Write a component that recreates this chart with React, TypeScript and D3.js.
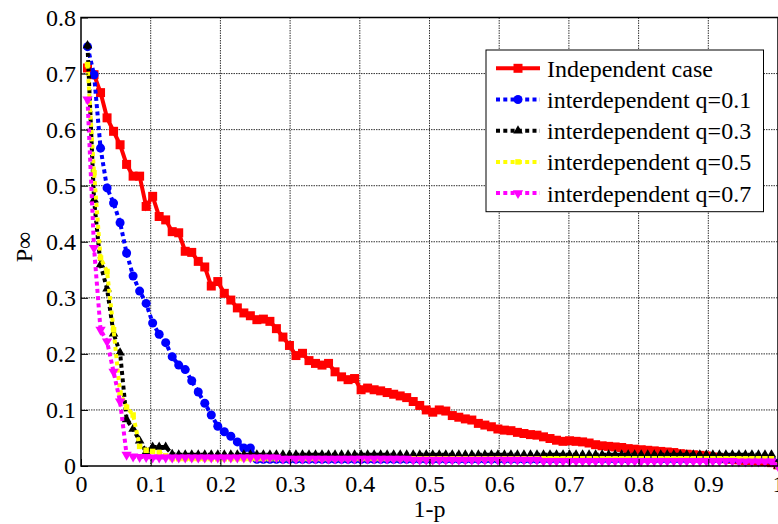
import React, { useRef, useEffect } from 'react';
import * as d3 from 'd3';

// sample grid: point i sits at 1-p = i / N
const N = 107;

const xTicks = [0, 0.1, 0.2, 0.3, 0.4, 0.5, 0.6, 0.7, 0.8, 0.9, 1];
const yTicks = [0, 0.1, 0.2, 0.3, 0.4, 0.5, 0.6, 0.7, 0.8];

const seriesNames = [
  'Independent case',
  'interdependent q=0.1',
  'interdependent q=0.3',
  'interdependent q=0.5',
  'interdependent q=0.7',
];

const independent = [
  0.710, 0.698, 0.666, 0.621, 0.597, 0.573, 0.538, 0.517, 0.517, 0.463,
  0.481, 0.445, 0.439, 0.418, 0.416, 0.383, 0.381, 0.365, 0.355, 0.321,
  0.329, 0.308, 0.296, 0.282, 0.273, 0.268, 0.261, 0.262, 0.258, 0.245,
  0.230, 0.215, 0.197, 0.201, 0.188, 0.183, 0.180, 0.183, 0.168, 0.159,
  0.154, 0.156, 0.136, 0.139, 0.136, 0.134, 0.131, 0.128, 0.125, 0.122,
  0.115, 0.108, 0.100, 0.096, 0.100, 0.098, 0.090, 0.087, 0.084, 0.082,
  0.076, 0.073, 0.070, 0.066, 0.064, 0.063, 0.060, 0.058, 0.056, 0.055,
  0.052, 0.049, 0.046, 0.044, 0.045, 0.044, 0.043, 0.041, 0.038, 0.036,
  0.035, 0.034, 0.033, 0.031, 0.030, 0.029, 0.028, 0.027, 0.026, 0.025,
  0.024, 0.022, 0.021, 0.020, 0.019, 0.018, 0.016, 0.015, 0.013, 0.012,
  0.011, 0.010, 0.010, 0.009, 0.008, 0.006, 0.002,
];

const interQ01 = [
  0.748, 0.698, 0.567, 0.496, 0.469, 0.434, 0.380, 0.339, 0.312, 0.290,
  0.255, 0.235, 0.220, 0.195, 0.180, 0.172, 0.152, 0.132, 0.112, 0.091,
  0.071, 0.061, 0.053, 0.043, 0.032, 0.032, 0.012, 0.012, 0.012, 0.012,
  0.012, 0.012, 0.012, 0.012, 0.012, 0.012, 0.012, 0.012, 0.012, 0.012,
  0.012, 0.012, 0.012, 0.012, 0.012, 0.012, 0.012, 0.012, 0.012, 0.012,
  0.012, 0.012, 0.012, 0.012, 0.012, 0.012, 0.012, 0.012, 0.012, 0.012,
  0.012, 0.012, 0.012, 0.012, 0.012, 0.012, 0.012, 0.012, 0.012, 0.012,
  0.012, 0.012, 0.012, 0.012, 0.012, 0.012, 0.012, 0.012, 0.012, 0.012,
  0.012, 0.012, 0.012, 0.012, 0.012, 0.012, 0.012, 0.012, 0.012, 0.012,
  0.012, 0.012, 0.012, 0.012, 0.012, 0.012, 0.012, 0.012, 0.012, 0.012,
  0.012, 0.012, 0.012, 0.012, 0.012, 0.010, 0.005,
];

const interQ03 = [
  0.750, 0.475, 0.359, 0.316, 0.236, 0.202, 0.083, 0.066, 0.045, 0.025,
  0.034, 0.034, 0.034, 0.021, 0.020, 0.020, 0.020, 0.020, 0.020, 0.020,
  0.020, 0.020, 0.020, 0.020, 0.020, 0.020, 0.020, 0.020, 0.020, 0.020,
  0.020, 0.020, 0.020, 0.020, 0.020, 0.020, 0.020, 0.020, 0.020, 0.020,
  0.020, 0.020, 0.020, 0.020, 0.020, 0.020, 0.020, 0.020, 0.020, 0.020,
  0.020, 0.020, 0.020, 0.020, 0.020, 0.020, 0.020, 0.020, 0.020, 0.020,
  0.020, 0.020, 0.020, 0.020, 0.020, 0.020, 0.020, 0.020, 0.020, 0.020,
  0.020, 0.020, 0.020, 0.020, 0.020, 0.020, 0.020, 0.020, 0.020, 0.020,
  0.020, 0.020, 0.020, 0.020, 0.020, 0.020, 0.020, 0.020, 0.020, 0.020,
  0.020, 0.020, 0.020, 0.020, 0.020, 0.020, 0.020, 0.020, 0.020, 0.020,
  0.020, 0.020, 0.020, 0.020, 0.020, 0.020, 0.000,
];

const interQ05 = [
  0.716, 0.523, 0.371, 0.347, 0.243, 0.130, 0.105, 0.091, 0.035, 0.028,
  0.026, 0.024, 0.018, 0.013, 0.013, 0.013, 0.013, 0.013, 0.013, 0.013,
  0.013, 0.013, 0.013, 0.013, 0.013, 0.013, 0.013, 0.013, 0.013, 0.013,
  0.013, 0.013, 0.013, 0.013, 0.013, 0.013, 0.013, 0.013, 0.013, 0.013,
  0.013, 0.013, 0.013, 0.013, 0.013, 0.013, 0.013, 0.013, 0.013, 0.013,
  0.013, 0.013, 0.013, 0.013, 0.013, 0.013, 0.013, 0.013, 0.013, 0.013,
  0.013, 0.013, 0.013, 0.013, 0.013, 0.013, 0.013, 0.013, 0.013, 0.013,
  0.013, 0.013, 0.013, 0.013, 0.013, 0.013, 0.013, 0.013, 0.013, 0.013,
  0.013, 0.013, 0.013, 0.013, 0.013, 0.013, 0.013, 0.013, 0.013, 0.013,
  0.013, 0.013, 0.013, 0.013, 0.013, 0.013, 0.013, 0.013, 0.013, 0.013,
  0.013, 0.013, 0.013, 0.013, 0.013, 0.013, 0.000,
];

const interQ07 = [
  0.654, 0.389, 0.243, 0.222, 0.168, 0.115, 0.020, 0.017, 0.016, 0.016,
  0.015, 0.015, 0.015, 0.015, 0.015, 0.015, 0.015, 0.015, 0.015, 0.015,
  0.015, 0.015, 0.015, 0.015, 0.015, 0.015, 0.015, 0.015, 0.015, 0.015,
  0.013, 0.013, 0.013, 0.013, 0.013, 0.013, 0.013, 0.013, 0.013, 0.013,
  0.013, 0.013, 0.013, 0.013, 0.013, 0.013, 0.013, 0.013, 0.013, 0.013,
  0.011, 0.011, 0.011, 0.011, 0.011, 0.011, 0.011, 0.011, 0.011, 0.011,
  0.011, 0.011, 0.011, 0.011, 0.011, 0.011, 0.011, 0.011, 0.011, 0.011,
  0.009, 0.009, 0.009, 0.009, 0.009, 0.009, 0.009, 0.009, 0.009, 0.009,
  0.009, 0.009, 0.009, 0.009, 0.009, 0.009, 0.009, 0.009, 0.009, 0.009,
  0.009, 0.009, 0.009, 0.009, 0.009, 0.009, 0.009, 0.009, 0.009, 0.009,
  0.008, 0.008, 0.008, 0.008, 0.008, 0.008, 0.000,
];

const FONT = 'Liberation Serif, Times New Roman, DejaVu Serif, serif';

const App: React.FC = () => {
  const svgRef = useRef<SVGSVGElement | null>(null);

  useEffect(() => {
    const svg = d3.select(svgRef.current);
    svg.selectAll('*').remove();

    const left = 81, right = 778, top = 17.5, bottom = 466;
    const x = d3.scaleLinear().domain([0, 1]).range([left, right]);
    const y = d3.scaleLinear().domain([0, 0.8]).range([bottom, top]);
    const xs = d3.range(1, N + 1).map(i => i / N);

    const styles = [
      { values: independent, color: '#ff0000', dash: null, symbol: d3.symbolSquare, size: 81, rotate: 0 },
      { values: interQ01, color: '#0000ff', dash: '4,3.3', symbol: d3.symbolCircle, size: 64, rotate: 0 },
      { values: interQ03, color: '#000000', dash: '4,3.3', symbol: d3.symbolTriangle, size: 40, rotate: 0 },
      { values: interQ05, color: '#ffff00', dash: '4,3.3', symbol: d3.symbolSquare, size: 30, rotate: 0 },
      { values: interQ07, color: '#ff00ff', dash: '4,3.3', symbol: d3.symbolTriangle, size: 46, rotate: 180 },
    ];

    // grid (dotted, like matlab)
    const grid = svg.append('g');
    grid.selectAll('line.vx')
      .data(xTicks.slice(1, -1))
      .enter().append('line')
      .attr('x1', d => x(d)).attr('x2', d => x(d))
      .attr('y1', top).attr('y2', bottom)
      .attr('stroke', '#333').attr('stroke-width', 1).attr('stroke-dasharray', '1.5,1');
    grid.selectAll('line.hy')
      .data(yTicks.slice(1, -1))
      .enter().append('line')
      .attr('x1', left).attr('x2', right)
      .attr('y1', d => y(d)).attr('y2', d => y(d))
      .attr('stroke', '#333').attr('stroke-width', 1).attr('stroke-dasharray', '1.5,1');

    // series
    const line = d3.line<number>()
      .x((_, i) => x(xs[i]))
      .y(d => y(d));

    styles.forEach(s => {
      const g = svg.append('g');
      g.append('path')
        .datum(s.values)
        .attr('d', line)
        .attr('fill', 'none')
        .attr('stroke', s.color)
        .attr('stroke-width', 4)
        .attr('stroke-dasharray', s.dash)
        .attr('stroke-linejoin', 'miter');
      g.selectAll('path.m')
        .data(s.values)
        .enter().append('path')
        .attr('d', d3.symbol().type(s.symbol).size(s.size)() as string)
        .attr('transform', (d, i) => `translate(${x(xs[i])},${y(d)}) rotate(${s.rotate})`)
        .attr('fill', s.color);
    });

    // axes box + ticks
    const xAxis = d3.axisBottom(x)
      .tickValues(xTicks)
      .tickSizeInner(-7).tickSizeOuter(0).tickPadding(9)
      .tickFormat(d => (d === 0 ? '0' : d === 1 ? '1' : d3.format('.1f')(d as number)));
    const yAxis = d3.axisLeft(y)
      .tickValues(yTicks)
      .tickSizeInner(-7).tickSizeOuter(0).tickPadding(5)
      .tickFormat(d => (d === 0 ? '0' : d3.format('.1f')(d as number)));

    const gx = svg.append('g').attr('transform', `translate(0,${bottom})`).call(xAxis);
    const gy = svg.append('g').attr('transform', `translate(${left},0)`).call(yAxis);
    [gx, gy].forEach(g => {
      g.attr('font-family', null).attr('font-size', null);
      g.select('.domain').remove();
      g.selectAll('text').style('font-family', FONT).style('font-size', '24px').attr('fill', '#000');
      g.selectAll('line').attr('stroke', '#000');
    });

    svg.append('rect')
      .attr('x', left).attr('y', top)
      .attr('width', right - left).attr('height', bottom - top)
      .attr('fill', 'none').attr('stroke', '#000').attr('stroke-width', 1.5);

    // axis labels
    svg.append('text')
      .attr('x', (left + right) / 2).attr('y', 517)
      .attr('text-anchor', 'middle')
      .style('font-family', FONT).style('font-size', '24px')
      .text('1-p');
    svg.append('text')
      .attr('transform', `translate(31.5,247) rotate(-90)`)
      .attr('text-anchor', 'middle')
      .style('font-family', FONT).style('font-size', '24px')
      .text('P∞');

    // legend
    const lg = svg.append('g');
    lg.append('rect')
      .attr('x', 486).attr('y', 50).attr('width', 277.5).attr('height', 161.7)
      .attr('fill', '#fff').attr('stroke', '#000').attr('stroke-width', 1);
    styles.forEach((s, i) => {
      const cy = 68.3 + i * 31.2;
      lg.append('line')
        .attr('x1', 496).attr('x2', 540).attr('y1', cy).attr('y2', cy)
        .attr('stroke', s.color).attr('stroke-width', 4)
        .attr('stroke-dasharray', s.dash);
      lg.append('path')
        .attr('d', d3.symbol().type(s.symbol).size(s.size)() as string)
        .attr('transform', `translate(518,${cy}) rotate(${s.rotate})`)
        .attr('fill', s.color);
      lg.append('text')
        .attr('x', 547).attr('y', cy).attr('dy', '0.35em')
        .style('font-family', FONT).style('font-size', '24px')
        .text(seriesNames[i]);
    });
  }, []);

  return (
    <svg
      ref={svgRef}
      width={778}
      height={524}
      style={{ position: 'absolute', left: 0, top: 0, background: '#fff' }}
    ></svg>
  );
};

export default App;
